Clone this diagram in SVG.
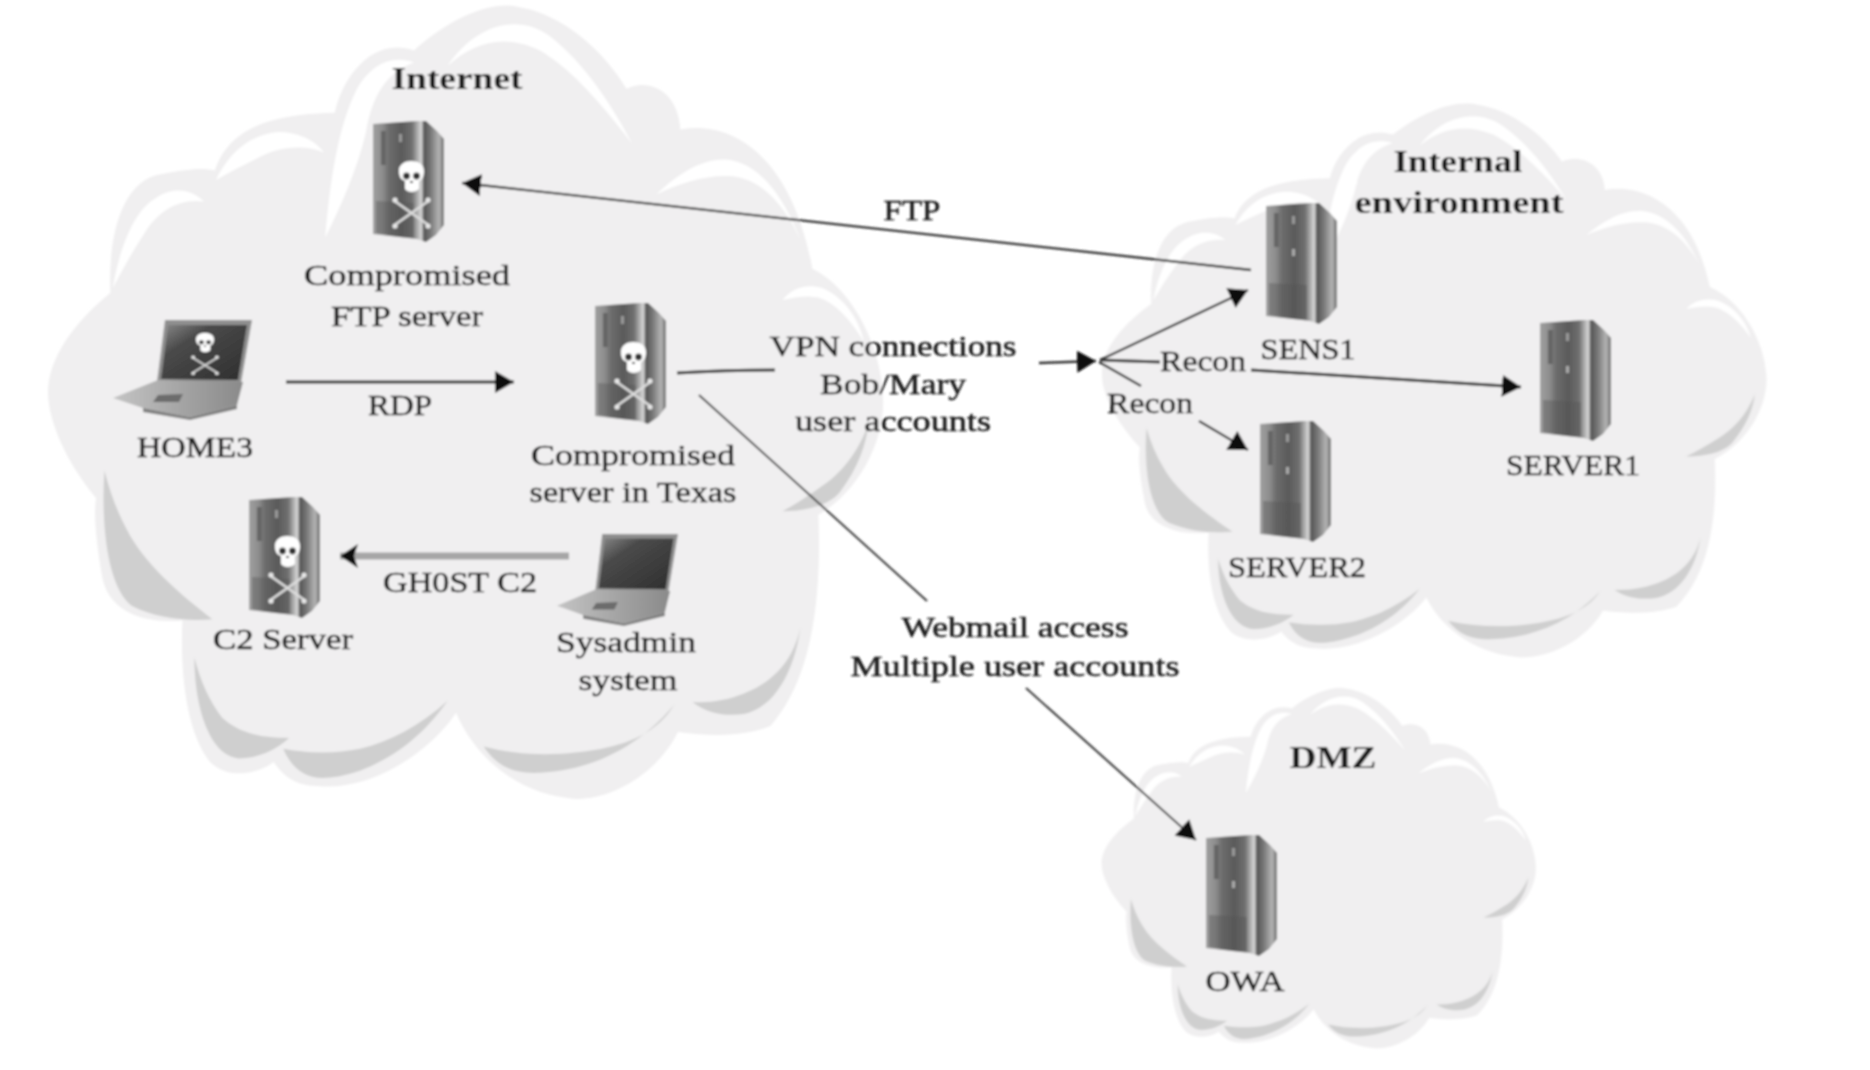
<svg xmlns="http://www.w3.org/2000/svg" xmlns:xlink="http://www.w3.org/1999/xlink" width="1870" height="1070" viewBox="0 0 1870 1070">
<style>
text{font-family:"Liberation Serif","DejaVu Serif",serif;font-size:29px;fill:#1c1c1c;text-anchor:middle;stroke:#1c1c1c;stroke-width:.5px}
.h{font-size:31px;font-weight:bold;stroke-width:0}
.c{fill:none;stroke:#333;stroke-width:2.4}
.t{stroke-width:3}
.n{stroke-width:1.9}
.m{marker-end:url(#ah)}
.rim{fill:#f0eff0}
.dk{fill:#cfcfcf}
.wh{fill:#fff}
.bone{stroke:#dcdcdc;stroke-width:2.6;fill:none;stroke-linecap:round}
.bonedot{fill:#e8e8e8}
</style>
<defs>
<filter id="soft" x="-2%" y="-2%" width="104%" height="104%"><feGaussianBlur stdDeviation="1"/></filter>
<marker id="ah" markerUnits="userSpaceOnUse" markerWidth="20" markerHeight="24" refX="19" refY="11" orient="auto"><path d="M0 0L19 11L0 22Z" fill="#111"/></marker>
<linearGradient id="front" x1="0" x2="1" y1="0" y2="0">
<stop offset="0" stop-color="#a0a0a0"/><stop offset=".14" stop-color="#8c8c8c"/><stop offset=".22" stop-color="#6e6e6e"/><stop offset=".4" stop-color="#5a5a5a"/><stop offset=".55" stop-color="#707070"/><stop offset=".62" stop-color="#a8a8a8"/><stop offset=".68" stop-color="#d8d8d8"/><stop offset=".72" stop-color="#555"/><stop offset=".82" stop-color="#7c7c7c"/><stop offset=".93" stop-color="#b4b4b4"/><stop offset="1" stop-color="#6e6e6e"/>
</linearGradient>
<linearGradient id="screen" x1="0" x2="1" y1="0" y2="1"><stop offset="0" stop-color="#8a8a8a"/><stop offset=".3" stop-color="#4a4a4a"/><stop offset="1" stop-color="#2e2e2e"/></linearGradient>
<linearGradient id="kbd" x1="0" x2="1" y1="0" y2="0"><stop offset="0" stop-color="#c4c4c4"/><stop offset=".5" stop-color="#a6a6a6"/><stop offset="1" stop-color="#8a8a8a"/></linearGradient>
<g id="cloud">
<path class="rim" d="M345 42C375 15 410 0 433 6C470 12 505 45 522 74C540 65 565 75 567 108C610 100 660 130 677 224C710 240 736 290 736 335C736 370 715 410 682 429C684 480 682 560 642 605C625 612 600 615 565 610C545 650 500 670 473 665C430 660 395 630 380 594C360 625 310 660 264 655C245 655 235 645 228 635C215 645 190 650 175 635C155 610 150 560 152 517C120 520 90 510 85 480C80 450 78 430 80 415C55 385 40 350 40 327C40 300 60 270 92 244C90 200 100 150 135 145C160 140 170 140 179 142C190 110 220 95 279 94C285 65 310 30 345 42Z"/>
<path class="wh" d="M373 55C395 22 430 10 458 30C490 55 512 92 527 120C505 92 480 60 450 42C420 28 395 35 373 55Z"/>
<path class="wh" d="M271 198C275 150 282 105 297 75C308 55 325 45 345 52C322 60 310 80 305 110C298 140 285 170 271 198Z"/>
<path class="wh" d="M94 240C100 205 112 175 130 165C145 155 160 158 170 168C150 165 132 175 120 195C110 210 102 225 94 240Z"/>
<path class="wh" d="M180 150C192 125 210 112 232 110C250 110 263 118 270 127C252 120 232 122 214 132C202 138 190 144 180 150Z"/>
<path class="wh" d="M547 162C565 145 585 132 605 133C630 135 652 160 667 200C655 172 635 150 612 147C590 145 568 152 547 162Z"/>
<path class="wh" d="M652 250C660 240 672 236 685 240C700 246 715 262 720 285C708 265 695 252 682 248C672 246 662 248 652 250Z"/>
<path class="dk" d="M87 392C84 440 90 490 110 505C130 515 155 518 177 516C150 495 120 470 105 440C97 425 91 408 87 392Z"/>
<path class="dk" d="M162 548C162 590 175 630 199 632C215 632 230 625 241 615C220 615 200 612 185 598C175 585 167 568 162 548Z"/>
<path class="dk" d="M236 624C245 645 260 650 275 648C305 645 345 625 373 584C350 605 325 618 300 624C280 628 258 628 236 624Z"/>
<path class="dk" d="M403 622C415 640 430 645 450 644C490 642 530 625 562 587C548 610 525 620 495 625C465 630 433 630 403 622Z"/>
<path class="dk" d="M577 585C590 595 605 597 620 595C645 590 662 560 667 523C660 555 640 570 620 578C605 584 590 586 577 585Z"/>
<path class="dk" d="M652 426C670 426 690 422 700 410C715 390 722 370 724 352C715 378 700 395 685 405C675 412 664 420 652 426Z"/>
</g>
<g id="server">
<path fill="url(#front)" d="M0 3L44 0L53 0L64 10L71 18L71 104L63 114L53 121L44 118L0 113Z"/>
<rect x="8" y="10" width="5" height="34" fill="#666"/>
<rect x="26" y="13" width="3" height="8" fill="#999"/>
<rect x="26" y="46" width="3" height="7" fill="#aaa"/>
<path d="M3 80L41 82L41 116L3 112Z" fill="#555" opacity=".4"/>
</g>
<g id="skull">
<path fill="#fff" d="M0 10C0 3 6 0 12 0C19 0 25 3 25 10C25 16 23 19 20 20L20 28C16 32 9 32 6 28L6 20C2 19 0 16 0 10Z"/>
<circle cx="7.5" cy="15" r="3.4" fill="#333"/><circle cx="17.5" cy="15" r="3.4" fill="#333"/>
<path d="M11 21L14 21" stroke="#333" stroke-width="2"/>
<path class="bone" d="M-3 41L28 63M28 41L-3 63"/>
<circle class="bonedot" cx="-4" cy="39" r="2.6"/><circle class="bonedot" cx="29" cy="39" r="2.6"/><circle class="bonedot" cx="-4" cy="65" r="2.6"/><circle class="bonedot" cx="29" cy="65" r="2.6"/>
</g>
<g id="laptop">
<path d="M52 0L139 0L128 63L44 62Z" fill="#8f8f8f"/>
<path d="M55 5L134 5L125 60L48 59Z" fill="url(#screen)"/>
<path d="M0 78L45 60L130 62L124 85L77 97L30 88Z" fill="url(#kbd)"/>
<path d="M45 75L70 74L66 82L40 82Z" fill="#6c6c6c"/>
<path d="M30 88L77 97L124 85L124 89L77 100L30 92Z" fill="#808080"/>
</g>
</defs>
<rect width="1870" height="1070" fill="#fff"/>
<g filter="url(#soft)">
<g id="cloud-internet"><use href="#cloud" transform="scale(1.2)"/></g>
<g id="cloud-internal"><use href="#cloud" transform="translate(1063.4 99.4) scale(.955 .838)"/></g>
<g id="cloud-dmz"><use href="#cloud" transform="translate(1076.6 685.5) scale(.624 .545)"/></g>
<g id="connectors">
<path class="c m" d="M1251 270L462 183"/>
<path class="c t m" d="M286 382L514 382"/>
<path class="c t" d="M677 373Q725 370 775 370"/>
<path class="c m" d="M1039 363L1096 361"/>
<path class="c m" d="M1100 360L1248 290"/>
<path class="c t" d="M1100 360L1160 362"/>
<path class="c t m" d="M1251 370L1521 387"/>
<path class="c" d="M1099 362L1141 386"/>
<path class="c m" d="M1199 421L1248 450"/>
<path class="c n" d="M699 395L927 601"/>
<path class="c n m" d="M1026 688L1196 840"/>
<path d="M569 556L340 556" fill="none" stroke="#a6a6a6" stroke-width="7"/>
<path d="M340 556L358 544L354 556L358 568Z" fill="#111"/>
<text x="912" y="220" textLength="57" lengthAdjust="spacingAndGlyphs">FTP</text>
<text x="400" y="415" textLength="64" lengthAdjust="spacingAndGlyphs">RDP</text>
<text x="460" y="592" textLength="154" lengthAdjust="spacingAndGlyphs">GH0ST C2</text>
<text x="893" y="356" textLength="247" lengthAdjust="spacingAndGlyphs">VPN connections</text>
<text x="893" y="394" textLength="146" lengthAdjust="spacingAndGlyphs">Bob/Mary</text>
<text x="893" y="431" textLength="196" lengthAdjust="spacingAndGlyphs">user accounts</text>
<text x="1203" y="371" textLength="86" lengthAdjust="spacingAndGlyphs">Recon</text>
<text x="1150" y="413" textLength="86" lengthAdjust="spacingAndGlyphs">Recon</text>
<text x="1015" y="637" textLength="227" lengthAdjust="spacingAndGlyphs">Webmail access</text>
<text x="1015" y="676" textLength="329" lengthAdjust="spacingAndGlyphs">Multiple user accounts</text>
</g>
<g id="label-internet"><text class="h" x="457" y="89" textLength="131" lengthAdjust="spacingAndGlyphs">Internet</text></g>
<g id="label-internal"><text class="h" x="1458" y="172" textLength="129" lengthAdjust="spacingAndGlyphs">Internal</text><text class="h" x="1459" y="213" textLength="209" lengthAdjust="spacingAndGlyphs">environment</text></g>
<g id="label-dmz"><text class="h" x="1333" y="768" textLength="87" lengthAdjust="spacingAndGlyphs">DMZ</text></g>
<g id="node-ftp"><use href="#server" x="373" y="121"/><use href="#skull" x="399" y="161"/>
<text x="407" y="285" textLength="206" lengthAdjust="spacingAndGlyphs">Compromised</text><text x="407" y="326" textLength="152" lengthAdjust="spacingAndGlyphs">FTP server</text></g>
<g id="node-texas"><use href="#server" x="595" y="303"/><use href="#skull" x="621" y="342"/>
<text x="633" y="465" textLength="204" lengthAdjust="spacingAndGlyphs">Compromised</text><text x="633" y="502" textLength="207" lengthAdjust="spacingAndGlyphs">server in Texas</text></g>
<g id="node-c2"><use href="#server" x="249" y="497"/><use href="#skull" x="275" y="536"/>
<text x="283" y="649" textLength="140" lengthAdjust="spacingAndGlyphs">C2 Server</text></g>
<g id="node-home3"><use href="#laptop" transform="translate(113 320)"/>
<g transform="translate(196 333) scale(.72 .62)"><use href="#skull"/></g>
<text x="195" y="457" textLength="116" lengthAdjust="spacingAndGlyphs">HOME3</text></g>
<g id="node-sysadmin"><use href="#laptop" transform="translate(557 534) scale(.87 .92)"/>
<text x="626" y="652" textLength="140" lengthAdjust="spacingAndGlyphs">Sysadmin</text><text x="628" y="690" textLength="99" lengthAdjust="spacingAndGlyphs">system</text></g>
<g id="node-sens1"><use href="#server" x="1266" y="203"/><text x="1308" y="359" textLength="95" lengthAdjust="spacingAndGlyphs">SENS1</text></g>
<g id="node-server1"><use href="#server" x="1540" y="320"/><text x="1573" y="475" textLength="134" lengthAdjust="spacingAndGlyphs">SERVER1</text></g>
<g id="node-server2"><use href="#server" x="1260" y="421"/><text x="1297" y="577" textLength="138" lengthAdjust="spacingAndGlyphs">SERVER2</text></g>
<g id="node-owa"><use href="#server" x="1206" y="835"/><text x="1245" y="996" textLength="79" lengthAdjust="spacingAndGlyphs" dy="-5">OWA</text></g>
</g>
</svg>
